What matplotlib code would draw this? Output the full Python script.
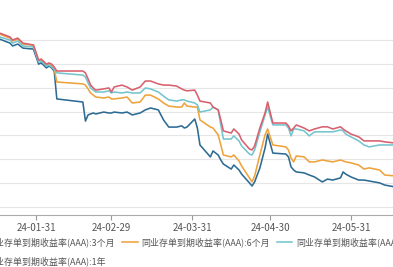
import matplotlib
matplotlib.use("Agg")
import matplotlib.pyplot as plt
import matplotlib.dates as mdates
import pandas as pd

plt.rcParams['font.family'] = ['Noto Sans CJK SC', 'DejaVu Sans']

dates = ['2024-01-17', '2024-01-21', '2024-01-22', '2024-01-24', '2024-01-26', '2024-01-30',
         '2024-02-01', '2024-02-02', '2024-02-04', '2024-02-05', '2024-02-06', '2024-02-07',
         '2024-02-08', '2024-02-18', '2024-02-19', '2024-02-20', '2024-02-21', '2024-02-22',
         '2024-02-23', '2024-02-26', '2024-02-28', '2024-02-29', '2024-03-01', '2024-03-04',
         '2024-03-06', '2024-03-08', '2024-03-11', '2024-03-13', '2024-03-15', '2024-03-18',
         '2024-03-20', '2024-03-22', '2024-03-25', '2024-03-27', '2024-03-28', '2024-03-29',
         '2024-04-01', '2024-04-02', '2024-04-03', '2024-04-07', '2024-04-08', '2024-04-10',
         '2024-04-11', '2024-04-12', '2024-04-15', '2024-04-16', '2024-04-18', '2024-04-19',
         '2024-04-22', '2024-04-23', '2024-04-24', '2024-04-26', '2024-04-28', '2024-04-29',
         '2024-05-01', '2024-05-06', '2024-05-07', '2024-05-08', '2024-05-09', '2024-05-10',
         '2024-05-13', '2024-05-15', '2024-05-17', '2024-05-20', '2024-05-22', '2024-05-24',
         '2024-05-27', '2024-05-28', '2024-05-29', '2024-05-31', '2024-06-03', '2024-06-05',
         '2024-06-07', '2024-06-11', '2024-06-13', '2024-06-17']

cd_3m = [2.504, 2.487, 2.475, 2.483, 2.466, 2.462,
         2.399, 2.404, 2.383, 2.391, 2.383, 2.370,
         2.253, 2.240, 2.160, 2.186, 2.190, 2.194,
         2.190, 2.198, 2.194, 2.194, 2.198, 2.194,
         2.198, 2.186, 2.194, 2.207, 2.215, 2.207,
         2.165, 2.135, 2.135, 2.140, 2.131, 2.135,
         2.169, 2.131, 2.060, 2.010, 2.035, 2.018,
         1.997, 1.980, 1.959, 1.976, 1.955, 1.938,
         1.901, 1.888, 1.905, 1.963, 2.047, 2.106,
         2.026, 2.022, 2.010, 1.968, 1.955, 1.947,
         1.943, 1.934, 1.926, 1.905, 1.917, 1.913,
         1.922, 1.947, 1.938, 1.926, 1.913, 1.913,
         1.909, 1.901, 1.892, 1.884]

cd_6m = [2.525, 2.508, 2.496, 2.504, 2.483, 2.479,
         2.412, 2.416, 2.395, 2.399, 2.391, 2.378,
         2.324, 2.316, 2.311, 2.295, 2.278, 2.269,
         2.261, 2.257, 2.261, 2.253, 2.253, 2.257,
         2.261, 2.236, 2.240, 2.269, 2.269, 2.253,
         2.236, 2.223, 2.219, 2.219, 2.236, 2.223,
         2.219, 2.219, 2.165, 2.135, 2.131, 2.102,
         2.060, 2.018, 2.010, 2.018, 1.993, 1.972,
         1.922, 1.905, 1.930, 2.018, 2.102, 2.127,
         2.060, 2.052, 2.039, 2.005, 1.989, 2.014,
         2.010, 1.989, 1.989, 1.997, 1.993, 1.989,
         1.997, 1.993, 1.989, 1.985, 1.976, 1.959,
         1.964, 1.955, 1.934, 1.930]

cd_9m = [2.513, 2.500, 2.487, 2.496, 2.475, 2.471,
         2.408, 2.412, 2.391, 2.395, 2.387, 2.378,
         2.362, 2.353, 2.345, 2.320, 2.299, 2.290,
         2.282, 2.282, 2.287, 2.278, 2.282, 2.278,
         2.282, 2.278, 2.278, 2.299, 2.295, 2.282,
         2.265, 2.249, 2.244, 2.249, 2.249, 2.244,
         2.236, 2.228, 2.198, 2.207, 2.219, 2.207,
         2.144, 2.085, 2.085, 2.098, 2.077, 2.056,
         2.022, 2.018, 2.039, 2.114, 2.186, 2.219,
         2.144, 2.144, 2.131, 2.098, 2.127, 2.127,
         2.119, 2.098, 2.115, 2.115, 2.115, 2.115,
         2.123, 2.119, 2.106, 2.094, 2.077, 2.060,
         2.052, 2.060, 2.060, 2.060]

cd_1y = [2.529, 2.513, 2.500, 2.508, 2.487, 2.479,
         2.416, 2.420, 2.399, 2.404, 2.399, 2.387,
         2.370, 2.370, 2.362, 2.337, 2.311, 2.299,
         2.290, 2.295, 2.299, 2.282, 2.303, 2.311,
         2.303, 2.290, 2.303, 2.328, 2.328, 2.316,
         2.311, 2.311, 2.307, 2.295, 2.290, 2.287,
         2.290, 2.269, 2.244, 2.236, 2.219, 2.207,
         2.165, 2.119, 2.110, 2.127, 2.106, 2.081,
         2.043, 2.039, 2.056, 2.131, 2.194, 2.240,
         2.152, 2.152, 2.140, 2.119, 2.131, 2.144,
         2.131, 2.119, 2.127, 2.136, 2.136, 2.127,
         2.136, 2.127, 2.119, 2.106, 2.094, 2.077,
         2.077, 2.077, 2.073, 2.068]

series_names = ['同业存单到期收益率(AAA):3个月', '同业存单到期收益率(AAA):6个月',
                '同业存单到期收益率(AAA):9个月', '同业存单到期收益率(AAA):1年']
series_colors = ['#2d6b93', '#eea33c', '#74c5ce', '#d8606e']
tick_dates = ['2024-01-31', '2024-02-29', '2024-03-31', '2024-04-30', '2024-05-31']
grid_values = [1.8, 1.9, 2.0, 2.1, 2.2, 2.3, 2.4, 2.5]

x = pd.to_datetime(dates)
fig = plt.figure(figsize=(3.93, 2.67), dpi=100)
ax = fig.add_axes([0.0, 0.1948, 1.0, 0.8052])

lines = []
for vals, name, col in zip([cd_3m, cd_6m, cd_9m, cd_1y], series_names, series_colors):
    ln, = ax.plot(x, vals, color=col, lw=1.15, label=name, solid_joinstyle='round')
    lines.append(ln)

ax.set_xlim(pd.Timestamp('2024-01-17 04:00'), pd.Timestamp('2024-06-16 04:00'))
ax.set_ylim(1.7665, 2.6677)
ax.set_yticks(grid_values)
ax.yaxis.grid(True, color='#e6e6e6', lw=0.8)
ax.tick_params(axis='y', left=False, labelleft=False)
ax.set_xticks(pd.to_datetime(tick_dates))
ax.xaxis.set_major_formatter(mdates.DateFormatter('%y-%m-%d'))
ax.tick_params(axis='x', length=3.5, width=0.8, color='#999999', labelsize=7,
               labelcolor='#555555', pad=2)
for s in ['top', 'right', 'left']:
    ax.spines[s].set_visible(False)
ax.spines['bottom'].set_color('#aaaaaa')
ax.spines['bottom'].set_linewidth(0.8)
ax.set_axisbelow(True)

order = [0, 3, 1, 2]
leg = fig.legend([lines[i] for i in order], [series_names[i] for i in order],
                 loc='upper left', bbox_to_anchor=(-0.082, 0.112), ncol=3, frameon=False,
                 fontsize=6.45, handlelength=1.7, handletextpad=0.4, columnspacing=0.8,
                 borderaxespad=0, borderpad=0, labelspacing=1.05, labelcolor='#555555')

fig.savefig('out.png', dpi=100)
